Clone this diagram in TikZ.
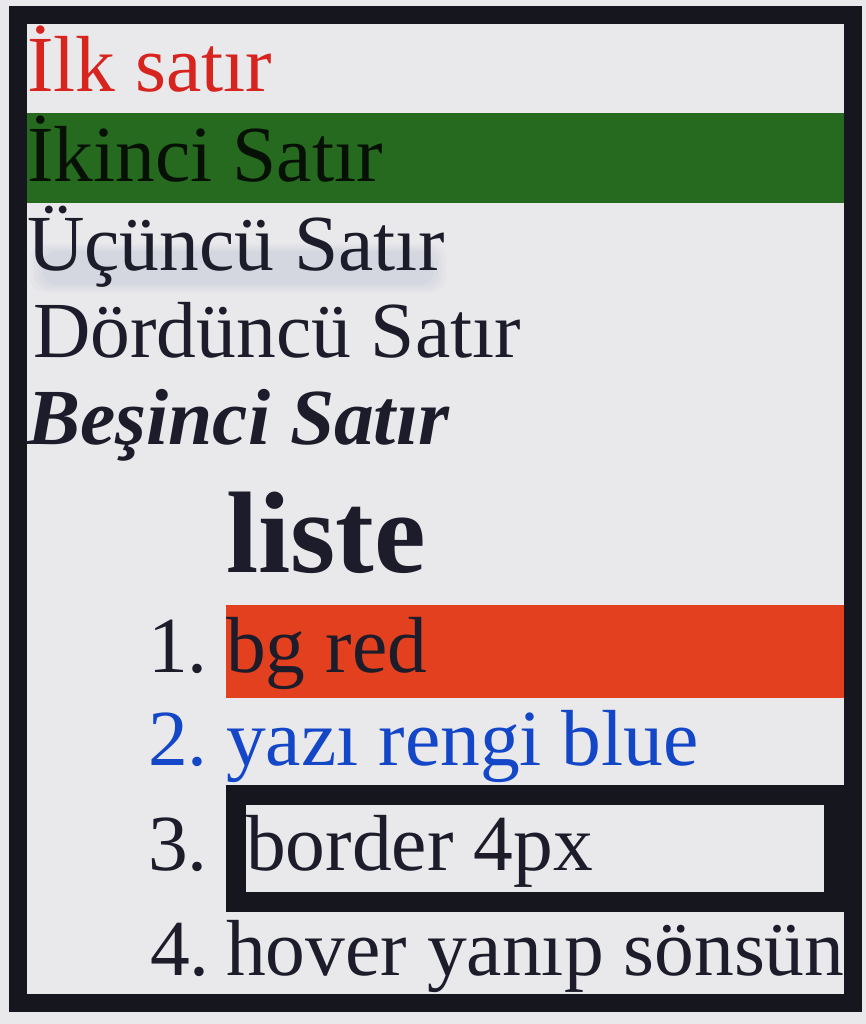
\documentclass[tikz,border=0pt]{standalone}
\usepackage{fontspec}
\setmainfont{Liberation Serif}
\definecolor{bgc}{HTML}{E9E9EC}
\definecolor{framec}{HTML}{16161E}
\definecolor{redtxt}{HTML}{D8241E}
\definecolor{greenband}{HTML}{256A1E}
\definecolor{redbar}{HTML}{E2401F}
\definecolor{bluetxt}{HTML}{1446C8}
\definecolor{darktxt}{HTML}{1C1C2A}
\definecolor{shadowc}{HTML}{7C84A8}
\tikzset{
  txt/.style={inner sep=0pt, anchor=base west, text=darktxt, font=\fontsize{79.5}{90}\selectfont},
  numtxt/.style={txt},
}
\begin{document}
\begin{tikzpicture}[x=1pt,y=-1pt]
\useasboundingbox (0,0) rectangle (866,1024);
\fill[bgc] (0,0) rectangle (866,1024);
\begin{scope}
\clip (27,24) rectangle (844,994);
% green band
\fill[greenband] (27,113) rectangle (844,203);
% red bar
\fill[redbar] (226,605) rectangle (844,698);
% soft shadow under the third line
\foreach \g in {0,4,8,12}
  \fill[shadowc, opacity=0.045, rounded corners=14pt] (30+\g,244+\g*0.6) rectangle (446-\g,292-\g*0.6);
% text lines
\node[txt, text=redtxt] (l1) at (27,92) {İlk satır};
\node[txt, text=black!85!greenband] (l2) at (27,182) {İkinci Satır};
\node[txt] (l3) at (27,270) {Üçüncü Satır};
\node[txt] (l4) at (33,357) {Dördüncü Satır};
\node[txt, font=\fontsize{79.5}{90}\selectfont\bfseries\itshape] (l5) at (27,444) {Beşinci Satır};
\node[txt, font=\fontsize{116}{130}\selectfont\bfseries] (head) at (226,572) {liste};
% list
\node[numtxt] (n1) at (148,672) {1.};
\node[txt] (i1) at (226,672) {bg red};
\node[numtxt, text=bluetxt] (n2) at (148,765) {2.};
\node[txt, text=bluetxt] (i2) at (226,765) {yazı rengi blue};
\draw[framec, line width=20pt] (236,795) rectangle (834,902);
\node[numtxt] (n3) at (148,870) {3.};
\node[txt] (i3) at (246,870) {border 4px};
\node[numtxt] (n4) at (150,975) {4.};
\node[txt] (i4) at (226,975) {hover yanıp sönsün};
\end{scope}
% outer frame
\draw[framec, line width=18pt] (18,15) rectangle (853,1003);
\end{tikzpicture}
\end{document}
